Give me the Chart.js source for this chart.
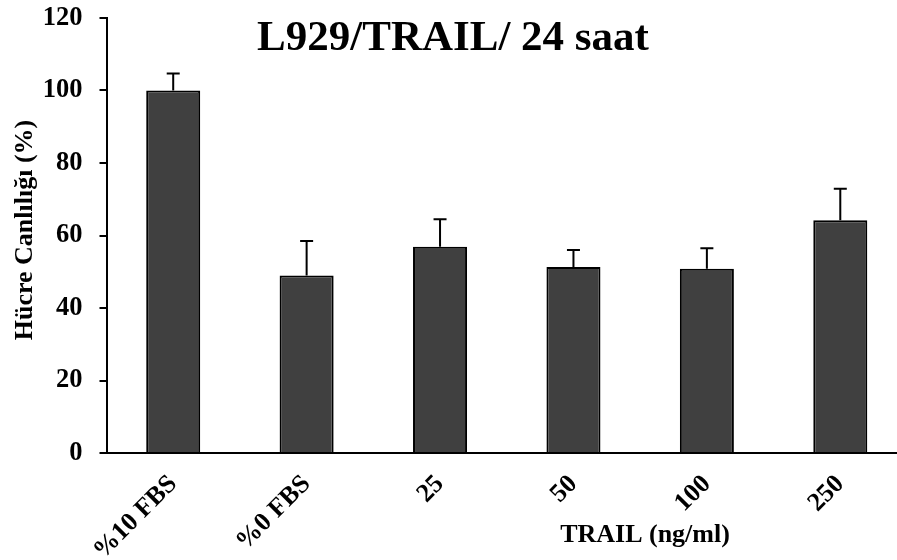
<!DOCTYPE html>
<html>
<head>
<meta charset="utf-8">
<script src="https://cdn.jsdelivr.net/npm/chart.js@4/dist/chart.umd.min.js"></script>
<style>
  html, body { margin: 0; padding: 0; background: #fff; overflow: hidden; }
  #wrap { width: 897px; height: 560px; overflow: hidden; position: relative; }
  canvas { display: block; }
</style>
</head>
<body>
<div id="wrap"><canvas id="c" width="922" height="560"></canvas></div>
<script>
// Cell viability after 24 h of TRAIL treatment (mean and SD, %)
const categories = ['%10 FBS', '%0 FBS', '25', '50', '100', '250'];
const viability = [100, 49.0, 56.9, 51.3, 50.8, 64.2];
const errors = [4.7, 9.5, 7.6, 4.7, 5.7, 8.7];
const yTicks = [0, 20, 40, 60, 80, 100, 120];

const titleText = 'L929/TRAIL/ 24 saat';
const yTitleText = 'Hücre Canlılığı (%)';
const xTitleText = 'TRAIL (ng/ml)';
const serif = '"Liberation Serif", "Times New Roman", serif';

// Error bars (upper half only) drawn above each bar
const errorBars = {
  id: 'errorBars',
  afterDatasetsDraw(chart) {
    const ctx = chart.ctx;
    const meta = chart.getDatasetMeta(0);
    const y = chart.scales.y;
    ctx.save();
    ctx.strokeStyle = '#000';
    ctx.lineWidth = 2;
    meta.data.forEach((bar, i) => {
      const x = bar.x;
      const y0 = y.getPixelForValue(viability[i]);
      const y1 = y.getPixelForValue(viability[i] + errors[i]);
      ctx.beginPath();
      ctx.moveTo(x, y0);
      ctx.lineTo(x, y1);
      ctx.moveTo(x - 6.5, y1);
      ctx.lineTo(x + 6.5, y1);
      ctx.stroke();
    });
    ctx.restore();
  }
};

// Chart title and axis titles
const texts = {
  id: 'texts',
  afterDraw(chart) {
    const ctx = chart.ctx;
    ctx.save();
    ctx.fillStyle = '#000';
    ctx.textAlign = 'center';
    ctx.textBaseline = 'alphabetic';
    ctx.font = 'bold 43px ' + serif;
    ctx.fillText(titleText, 453, 49.5);

    ctx.font = 'bold 26px ' + serif;
    ctx.textBaseline = 'middle';
    ctx.fillText(xTitleText, 645, 535);

    ctx.translate(25, 230);
    ctx.rotate(-Math.PI / 2);
    ctx.fillText(yTitleText, 0, 0);
    ctx.restore();
  }
};

new Chart(document.getElementById('c'), {
  type: 'bar',
  data: {
    labels: categories,
    datasets: [{
      data: viability,
      backgroundColor: '#404040',
      borderColor: '#000',
      borderWidth: 2,
      categoryPercentage: 1,
      barPercentage: 0.405
    }]
  },
  options: {
    responsive: false,
    animation: false,
    devicePixelRatio: 1,
    layout: { padding: { top: 18, right: 15, left: 0, bottom: 0 } },
    plugins: { legend: { display: false }, tooltip: { enabled: false }, title: { display: false } },
    scales: {
      x: {
        grid: { display: false },
        border: { display: true, color: '#000', width: 2 },
        ticks: {
          color: '#000',
          font: { family: serif, size: 26, weight: 'bold' },
          maxRotation: 45,
          minRotation: 45,
          padding: 8
        },
        afterFit(s) { s.height = 107; s.paddingLeft = 0; s.paddingRight = 0; }
      },
      y: {
        min: 0,
        max: 120,
        afterBuildTicks(s) { s.ticks = yTicks.map(v => ({ value: v })); },
        grid: { display: true, drawOnChartArea: false, drawTicks: true, tickLength: 7, color: '#000', lineWidth: 2 },
        border: { display: true, color: '#000', width: 2 },
        ticks: {
          color: '#000',
          font: { family: serif, size: 26.5, weight: 'bold' },
          padding: 17
        },
        afterFit(s) { s.width = 106.5; s.paddingTop = 0; s.paddingBottom = 0; }
      }
    }
  },
  plugins: [errorBars, texts]
});
</script>
</body>
</html>
